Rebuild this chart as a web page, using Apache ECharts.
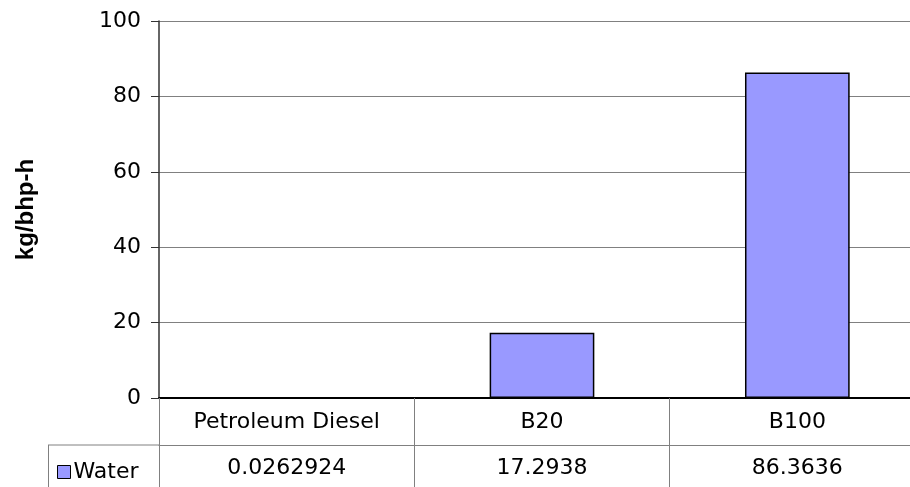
<!DOCTYPE html>
<html>
<head>
<meta charset="utf-8">
<script src="https://cdn.jsdelivr.net/npm/echarts@6/dist/echarts.min.js"></script>
<style>html,body{margin:0;padding:0;background:#fff;overflow:hidden;width:910px;height:487px}#c{width:925px;height:487px}</style>
</head>
<body>
<div id="c"></div>
<script>
var categories = ['Petroleum Diesel', 'B20', 'B100'];
var seriesName = 'Water';
var waterValues = [0.0262924, 17.2938, 86.3636];
var yTicks = [0, 20, 40, 60, 80, 100];
var yAxisTitle = 'kg/bhp-h';

var FONT = 'DejaVu Sans';
var FS = 22;
var chart = echarts.init(document.getElementById('c'), null, {renderer: 'canvas'});
chart.setOption({
  animation: false,
  backgroundColor: '#fff',
  grid: {left: 159, top: 21, right: 0, bottom: 89, containLabel: false},
  legend: {
    data: [seriesName], left: 52, top: 456, icon: 'rect',
    itemWidth: 13, itemHeight: 13, itemGap: 4,
    textStyle: {fontFamily: FONT, fontSize: FS, color: '#000', padding: [0,0,0,-2]},
    itemStyle: {borderColor: '#000', borderWidth: 1}
  },
  xAxis: [{
    type: 'category', data: categories, position: 'bottom',
    axisLine: {show: true, lineStyle: {color: '#000', width: 2}},
    axisTick: {show: true, alignWithLabel: false, length: 89, inside: false, lineStyle: {color: '#808080', width: 1}},
    axisLabel: {fontFamily: FONT, fontSize: FS, color: '#000', margin: 13, interval: 0},
    splitLine: {show: false}
  }, {
    type: 'category', data: categories, position: 'bottom', offset: 47,
    axisLine: {show: true, lineStyle: {color: '#808080', width: 1}},
    axisTick: {show: false},
    axisLabel: {fontFamily: FONT, fontSize: FS, color: '#000', margin: 12, interval: 0,
      formatter: function (v, i) { return String(waterValues[i]); }},
    splitLine: {show: false}
  }],
  yAxis: {
    type: 'value', min: yTicks[0], max: yTicks[yTicks.length - 1], interval: yTicks[1] - yTicks[0],
    name: yAxisTitle, nameLocation: 'middle', nameRotate: 90, nameGap: 121,
    nameTextStyle: {fontFamily: 'Liberation Sans', fontWeight: 'bold', fontSize: 24, color: '#000'},
    axisLine: {show: true, lineStyle: {color: '#333', width: 1.5}},
    axisTick: {show: true, length: 8, lineStyle: {color: '#333'}},
    axisLabel: {fontFamily: FONT, fontSize: FS, color: '#000', margin: 18},
    splitLine: {show: true, lineStyle: {color: '#808080', width: 1}}
  },
  series: [{
    name: seriesName, type: 'bar', data: waterValues, barWidth: '41%',
    itemStyle: {color: '#9999ff', borderColor: '#000', borderWidth: 1.5}
  }],
  graphic: [
    {type: 'line', shape: {x1: 48, y1: 445, x2: 159, y2: 445}, style: {stroke: '#808080', lineWidth: 1}, silent: true},
    {type: 'line', shape: {x1: 48.5, y1: 445, x2: 48.5, y2: 487}, style: {stroke: '#808080', lineWidth: 1}, silent: true}
  ]
});
</script>
</body>
</html>
